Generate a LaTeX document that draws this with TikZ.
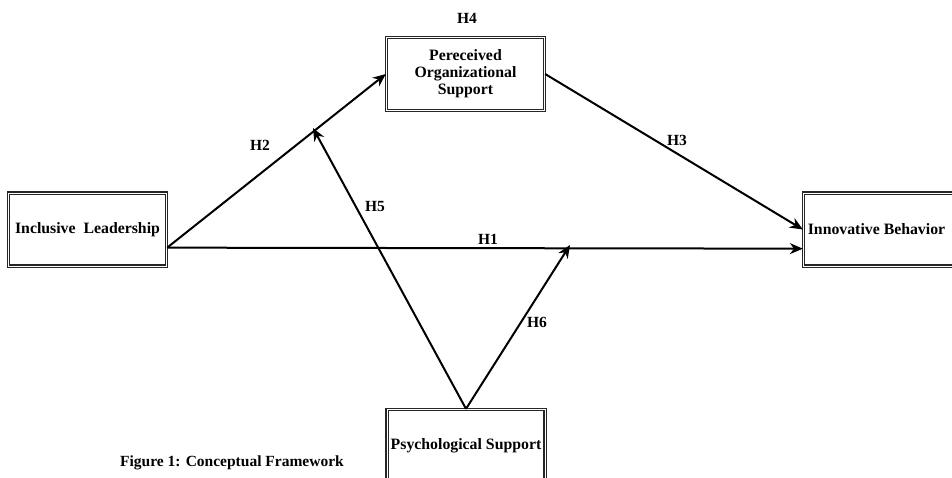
\documentclass[tikz,border=0pt]{standalone}
\usepackage{fontspec}
\setmainfont{Liberation Serif}
\usetikzlibrary{arrows.meta,calc}
\begin{document}
\begin{tikzpicture}[x=1pt,y=-1pt,
  box/.style={draw=black!85, double=white, double distance=0.7pt, line width=1.3pt,
    minimum width=158pt, minimum height=73pt, align=center, inner sep=2pt,
    font=\fontsize{15.8}{17}\selectfont\bfseries},
  lab/.style={font=\fontsize{15.5}{17}\selectfont\bfseries, inner sep=1pt},
  arr/.style={line width=2pt, -{Stealth[length=13pt,width=11pt]}}]
\useasboundingbox (0,0) rectangle (952,477);
\clip (0,0) rectangle (952,477);
\fill[white] (0,0) rectangle (952,477);
\node[box] (IL) at (87.5,229.5) {Inclusive\ \ Leadership};
\node[box] (POS) at (465.5,74) {Pereceived\\Organizational\\Support};
\node[box] (IB) at (882.5,229.5) {Innovative Behavior\hspace*{12pt}};
\node[box] (PS) at (466,446) {Psychological Support};
\coordinate (ILo) at ($(IL.south east)+(0,-19)$);
\coordinate (IBi) at ($(IB.south west)+(0,-18)$);
\coordinate (m5) at (313,128);
\coordinate (m6) at (570,245);
\draw[arr] (ILo) -- (POS.west);
\draw[arr] (ILo) -- (IBi);
\draw[arr] (POS.east) -- (IB.west);
\draw[arr] (PS.north) -- (m5);
\draw[arr] (PS.north) -- (m6);
\node[lab] (h4) at (467,18) {H4};
\node[lab] (h2) at (260,145) {H2};
\node[lab] (h5) at (375,206) {H5};
\node[lab] (h1) at (488,239) {H1};
\node[lab] (h3) at (677,140) {H3};
\node[lab] (h6) at (537,322) {H6};
\node[lab, anchor=west] (cap) at (119,463) {Figure 1: Conceptual Framework};
\end{tikzpicture}
\end{document}
